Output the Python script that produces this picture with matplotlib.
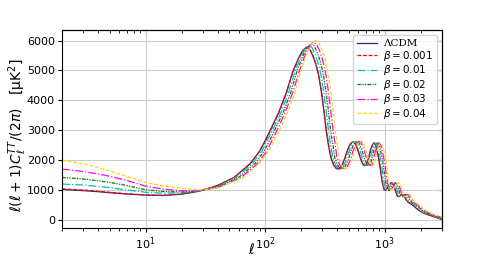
import matplotlib
matplotlib.use("Agg")
import matplotlib.pyplot as plt
import numpy as np

# low-ell part, shared multipoles
ell_low = [2, 3, 4, 5, 7, 10, 14, 20, 28, 40]

dl_low_lcdm = [1020, 980, 945, 910, 865, 830, 818, 860, 960, 1150]
dl_low_b0001 = [1040, 1000, 960, 925, 875, 838, 822, 862, 960, 1148]
dl_low_b001 = [1200, 1165, 1120, 1080, 1000, 925, 895, 905, 965, 1120]
dl_low_b002 = [1420, 1370, 1310, 1255, 1150, 1010, 950, 935, 970, 1100]
dl_low_b003 = [1700, 1620, 1540, 1460, 1320, 1130, 1030, 975, 975, 1080]
dl_low_b004 = [2000, 1880, 1760, 1640, 1450, 1260, 1140, 1060, 1000, 1060]

# acoustic part, each model has its own multipoles (peaks move right with beta)
ell_lcdm = [55, 75, 90, 100, 115, 130, 150, 170, 190, 205, 220, 235, 250, 265, 280, 295,
            310, 325, 340, 355, 375, 395, 410, 430, 458, 480, 505, 530, 550, 570, 600, 630,
            660, 680, 700, 730, 760, 790, 815, 840, 870, 900, 930, 960, 990, 1020, 1060,
            1100, 1150, 1200, 1240, 1280, 1320, 1360, 1410, 1460, 1520, 1580, 1650, 1720,
            1800, 1900, 2000, 2200, 2400, 2700, 3000]
ell_b0001 = [55, 75, 90, 101, 116, 131, 151, 171, 191, 206, 221, 236, 251, 266, 281, 296,
             311, 327, 342, 357, 377, 397, 412, 432, 460, 482, 507, 532, 552, 572, 603, 633,
             663, 683, 703, 733, 763, 794, 819, 844, 874, 904, 934, 964, 994, 1025, 1065,
             1105, 1155, 1206, 1246, 1286, 1326, 1366, 1417, 1467, 1527, 1588, 1658, 1728,
             1809, 1909, 2010, 2211, 2412, 2713, 3015]
ell_b001 = [57, 78, 94, 104, 120, 136, 157, 178, 199, 214, 230, 246, 261, 277, 293, 308,
            324, 340, 355, 369, 390, 411, 426, 447, 476, 499, 525, 551, 572, 593, 624, 655,
            686, 707, 728, 756, 787, 818, 844, 869, 900, 932, 963, 994, 1025, 1056, 1097,
            1139, 1190, 1242, 1283, 1325, 1366, 1408, 1459, 1511, 1573, 1635, 1708, 1780,
            1863, 1967, 2070, 2277, 2484, 2795, 3105]
ell_b002 = [60, 82, 98, 109, 125, 142, 164, 185, 207, 224, 240, 256, 273, 289, 305, 322,
            338, 354, 371, 383, 405, 427, 443, 464, 495, 518, 545, 572, 594, 616, 648, 680,
            713, 734, 756, 781, 813, 845, 872, 899, 931, 963, 995, 1027, 1059, 1091, 1134,
            1177, 1231, 1284, 1327, 1370, 1412, 1455, 1509, 1562, 1626, 1691, 1766, 1840,
            1926, 2033, 2140, 2354, 2568, 2889, 3210]
ell_b003 = [63, 86, 103, 114, 131, 148, 171, 194, 217, 234, 251, 268, 285, 302, 319, 336,
            353, 371, 388, 399, 422, 444, 461, 484, 515, 540, 568, 596, 619, 641, 675, 709,
            743, 765, 788, 807, 840, 873, 901, 928, 961, 995, 1028, 1061, 1094, 1127, 1171,
            1216, 1271, 1326, 1370, 1414, 1459, 1503, 1558, 1613, 1680, 1746, 1823, 1901,
            1989, 2100, 2210, 2431, 2652, 2984, 3315]
ell_b004 = [66, 89, 107, 119, 137, 155, 179, 202, 226, 244, 262, 280, 298, 315, 333, 351,
            369, 387, 405, 414, 437, 460, 478, 501, 534, 559, 588, 617, 641, 664, 699, 734,
            769, 792, 816, 832, 866, 901, 929, 958, 992, 1026, 1060, 1094, 1129, 1163, 1208,
            1254, 1311, 1368, 1414, 1459, 1505, 1550, 1607, 1664, 1733, 1801, 1881, 1961,
            2052, 2166, 2280, 2508, 2736, 3078, 3420]

dl_lcdm = [1420, 1880, 2300, 2650, 3150, 3600, 4250, 4950, 5400, 5650, 5770, 5720, 5500, 5220,
           4850, 4300, 3650, 2950, 2450, 2080, 1820, 1715, 1706, 1760, 2000, 2250, 2480, 2590,
           2610, 2540, 2300, 2030, 1850, 1816, 1850, 2050, 2330, 2520, 2575, 2500, 2250, 1950,
           1550, 1200, 1010, 990, 1100, 1210, 1250, 1130, 930, 790, 780, 830, 850, 790, 660,
           580, 540, 490, 420, 340, 280, 200, 150, 80, 20]
dl_b0001 = [1420, 1880, 2300, 2650, 3150, 3600, 4250, 4950, 5405, 5655, 5775, 5725, 5505, 5225,
            4850, 4300, 3650, 2950, 2450, 2080, 1820, 1715, 1706, 1760, 2000, 2250, 2480, 2590,
            2610, 2540, 2300, 2030, 1850, 1816, 1850, 2050, 2330, 2520, 2575, 2500, 2250, 1950,
            1550, 1200, 1010, 990, 1100, 1210, 1250, 1130, 930, 790, 780, 830, 850, 790, 660,
            580, 540, 490, 420, 340, 280, 200, 150, 80, 20]
dl_b001 = [1420, 1880, 2300, 2650, 3150, 3600, 4260, 4970, 5440, 5700, 5820, 5770, 5550, 5260,
           4870, 4310, 3650, 2950, 2450, 2080, 1820, 1715, 1706, 1760, 2000, 2250, 2485, 2595,
           2615, 2545, 2300, 2030, 1850, 1816, 1850, 2050, 2330, 2520, 2575, 2500, 2250, 1950,
           1550, 1200, 1010, 990, 1100, 1210, 1250, 1130, 930, 790, 780, 830, 850, 790, 660,
           580, 540, 490, 420, 340, 280, 200, 150, 80, 20]
dl_b002 = [1420, 1880, 2300, 2650, 3150, 3610, 4270, 4980, 5490, 5750, 5880, 5830, 5600, 5310,
           4920, 4330, 3660, 2950, 2450, 2080, 1820, 1715, 1706, 1760, 2000, 2255, 2490, 2600,
           2620, 2550, 2300, 2030, 1850, 1816, 1850, 2050, 2330, 2520, 2575, 2500, 2250, 1950,
           1550, 1200, 1010, 990, 1100, 1210, 1250, 1130, 930, 790, 780, 830, 850, 790, 660,
           580, 540, 490, 420, 340, 280, 200, 150, 80, 20]
dl_b003 = [1420, 1880, 2300, 2650, 3150, 3620, 4280, 5000, 5540, 5800, 5940, 5890, 5660, 5360,
           4960, 4370, 3680, 2960, 2450, 2080, 1820, 1715, 1706, 1760, 2000, 2260, 2495, 2610,
           2630, 2560, 2310, 2030, 1850, 1816, 1850, 2050, 2330, 2520, 2580, 2500, 2250, 1950,
           1550, 1200, 1010, 990, 1100, 1210, 1250, 1130, 930, 790, 780, 830, 850, 790, 660,
           580, 540, 490, 420, 340, 280, 200, 150, 80, 20]
dl_b004 = [1420, 1880, 2300, 2650, 3150, 3630, 4300, 5050, 5600, 5870, 6000, 5950, 5720, 5420,
           5000, 4420, 3700, 2970, 2450, 2080, 1820, 1715, 1706, 1760, 2000, 2265, 2500, 2620,
           2640, 2570, 2320, 2030, 1850, 1816, 1850, 2050, 2330, 2520, 2585, 2500, 2250, 1950,
           1550, 1200, 1010, 990, 1100, 1210, 1250, 1130, 930, 790, 780, 830, 850, 790, 660,
           580, 540, 490, 420, 340, 280, 200, 150, 80, 20]

labels = ["ΛCDM", r"$\beta=0.001$", r"$\beta=0.01$", r"$\beta=0.02$", r"$\beta=0.03$", r"$\beta=0.04$"]

series = [
    (ell_lcdm, dl_low_lcdm, dl_lcdm, "#2b2b7a", "-"),
    (ell_b0001, dl_low_b0001, dl_b0001, "red", (0, (3, 1.5))),
    (ell_b001, dl_low_b001, dl_b001, "c", "-."),
    (ell_b002, dl_low_b002, dl_b002, "green", (0, (3, 1, 1, 1, 1, 1))),
    (ell_b003, dl_low_b003, dl_b003, "magenta", "-."),
    (ell_b004, dl_low_b004, dl_b004, "gold", (0, (3, 1.5))),
]

fig = plt.figure(figsize=(4.9, 2.57), dpi=100)
ax = fig.add_axes([0.1265, 0.1117, 0.775, 0.7713])

for (ell_hi, low, hi, col, ls), lab in zip(series, labels):
    x = ell_low + ell_hi
    y = low + hi
    ax.plot(x, y, color=col, linestyle=ls, linewidth=0.9, label=lab)

ax.set_xscale("log")
ax.set_xlim(2, 3000)
ax.set_ylim(-280, 6350)
ax.set_yticks([0, 1000, 2000, 3000, 4000, 5000, 6000])
ax.grid(True, which="major", color="#cccccc", linewidth=0.8)
ax.tick_params(labelsize=8, length=3, pad=2)
ax.tick_params(which="minor", length=1.8)

# inward ticks on top and right
top = ax.secondary_xaxis("top")
top.tick_params(which="both", direction="in", labeltop=False, length=3)
top.tick_params(which="minor", length=1.8)
right = ax.secondary_yaxis("right")
right.set_yticks([0, 1000, 2000, 3000, 4000, 5000, 6000])
right.tick_params(direction="in", labelright=False, length=3)

ax.set_xlabel(r"$\ell$", fontsize=10)
ax.xaxis.set_label_coords(0.5, -0.07)
ax.set_ylabel(r"$\ell(\ell+1)C_\ell^{TT}/(2\pi)$   [μK$^2$]", fontsize=10)
ax.yaxis.set_label_coords(-0.088, 0.47)

leg = ax.legend(loc="upper right", fontsize=7.5, handlelength=1.9, labelspacing=0.05,
                borderpad=0.35, handletextpad=0.6, framealpha=0.8)
leg.get_texts()[0].set_family("DejaVu Serif")

fig.savefig("out.png", dpi=100)
